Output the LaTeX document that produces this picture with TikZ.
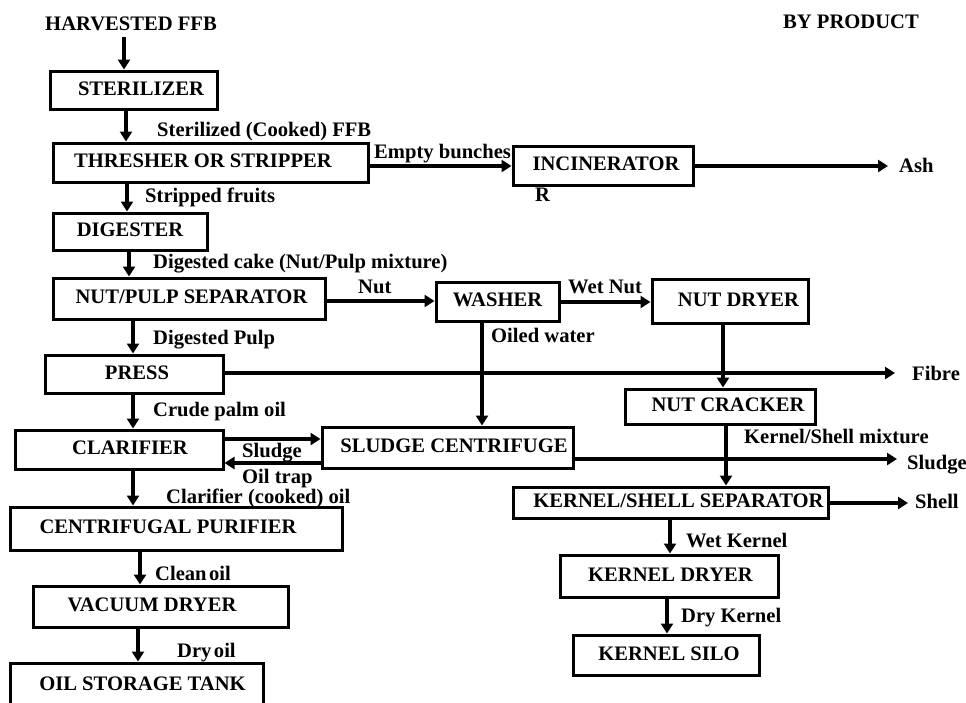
\documentclass[tikz,border=0pt]{standalone}
\usepackage{fontspec}
\setmainfont{Liberation Serif}
\usetikzlibrary{arrows.meta}
\begin{document}
\begin{tikzpicture}[x=1pt,y=-1pt,
  font=\fontsize{20.6}{24}\selectfont\bfseries,
  box/.style={draw, line width=3pt, inner sep=0pt, text height=14pt, text depth=4pt, anchor=center},
  lbl/.style={inner sep=0pt, text height=14pt, text depth=4pt, anchor=west},
  arr/.style={line width=3.5pt, -{Triangle[length=10pt,width=12pt]}},
  ln/.style={line width=3.5pt}]
\useasboundingbox (0,0) rectangle (966,702);
% boxes
\node[box, minimum width=167pt, minimum height=38pt] (steril) at (133.5,90) {\hspace*{15pt}STERILIZER};
\node[box, minimum width=315pt, minimum height=39pt] (thresh) at (210.5,162.5) {THRESHER OR STRIPPER\hspace*{15pt}};
\node[box, minimum width=180pt, minimum height=39pt] (incin) at (603,165.5) {\hspace*{6pt}INCINERATOR};
\node[box, minimum width=154pt, minimum height=37pt] (digest) at (130,231.5) {DIGESTER};
\node[box, minimum width=272pt, minimum height=41pt] (nutpulp) at (189,298.5) {\hspace*{5pt}NUT/PULP SEPARATOR};
\node[box, minimum width=123pt, minimum height=39pt] (washer) at (497.5,301.5) {WASHER};
\node[box, minimum width=156pt, minimum height=44pt] (nutdryer) at (730,301) {\hspace*{17pt}NUT DRYER};
\node[box, minimum width=178pt, minimum height=38pt] (press) at (134,374) {\hspace*{6pt}PRESS};
\node[box, minimum width=190pt, minimum height=35pt] (cracker) at (720,406.5) {\hspace*{16pt}NUT CRACKER};
\node[box, minimum width=208pt, minimum height=39pt] (clar) at (119,449.5) {\hspace*{22pt}CLARIFIER};
\node[box, minimum width=251pt, minimum height=41pt] (centri) at (447.5,447.5) {\hspace*{13pt}SLUDGE CENTRIFUGE};
\node[box, minimum width=315pt, minimum height=31pt] (kssep) at (670.5,502.5) {\hspace*{16pt}KERNEL/SHELL SEPARATOR};
\node[box, minimum width=332pt, minimum height=43pt] (purif) at (176,528.5) {CENTRIFUGAL PURIFIER\hspace*{16pt}};
\node[box, minimum width=218pt, minimum height=42pt] (kdryer) at (669,576) {\hspace*{3pt}KERNEL DRYER};
\node[box, minimum width=255pt, minimum height=41pt] (vac) at (160.5,606.5) {VACUUM DRYER\hspace*{17pt}};
\node[box, minimum width=186pt, minimum height=40pt] (silo) at (666,655) {\hspace*{6pt}KERNEL SILO};
\node[box, minimum width=253pt, minimum height=44pt] (tank) at (136.5,685) {\hspace*{12pt}OIL STORAGE TANK};
% free texts
\node[lbl, anchor=center] (harv) at (131,25) {HARVESTED FFB};
\node[lbl] (byprod) at (783,23) {BY PRODUCT};
\node[lbl] (tSter) at (157,131) {Sterilized (Cooked) FFB};
\node[lbl] (tEmpty) at (374,153) {Empty bunches};
\node[lbl] (tR) at (535,196) {R};
\node[lbl] (tAsh) at (899,167) {Ash};
\node[lbl] (tStrip) at (145,197) {Stripped fruits};
\node[lbl] (tCake) at (153,263) {Digested cake (Nut/Pulp mixture)};
\node[lbl] (tNut) at (358,288) {Nut};
\node[lbl] (tWetNut) at (568,288) {Wet Nut};
\node[lbl] (tPulp) at (153,339) {Digested Pulp};
\node[lbl] (tOiled) at (491,337) {Oiled water};
\node[lbl] (tFibre) at (912,375) {Fibre};
\node[lbl] (tCrude) at (153,411) {Crude palm oil};
\node[lbl] (tKSmix) at (744,438) {Kernel/Shell mixture};
\node[lbl] (tSludgeA) at (242,452) {Sludge};
\node[lbl] (tOilTrap) at (242,478) {Oil trap};
\node[lbl] (tSludgeB) at (907,464) {Sludge};
\node[lbl] (tClarOil) at (166,498) {Clarifier (cooked) oil};
\node[lbl] (tShell) at (915,503) {Shell};
\node[lbl] (tClean) at (155,575) {Clean\hspace{0.12em}oil};
\node[lbl] (tWetK) at (686,542) {Wet Kernel};
\node[lbl] (tDryK) at (681,617) {Dry Kernel};
\node[lbl] (tDryOil) at (177,652) {Dry\hspace{0.12em}oil};
% free ends
\coordinate (ashEnd) at (888,166);
\coordinate (fibreEnd) at (895,373);
\coordinate (sludgeEnd) at (897,459);
\coordinate (shellEnd) at (908,503);
% vertical connectors
\draw[arr, shorten <=3pt] (harv.south -| 124,0) -- (steril.north -| 124,0);
\draw[arr] (steril.south -| 126,0) -- (thresh.north -| 126,0);
\draw[arr] (thresh.south -| 127,0) -- (digest.north -| 127,0);
\draw[arr] (digest.south -| 129,0) -- (nutpulp.north -| 129,0);
\draw[arr] (nutpulp.south -| 133,0) -- (press.north -| 133,0);
\draw[arr] (press.south -| 133,0) -- (clar.north -| 133,0);
\draw[arr] (clar.south -| 133,0) -- (purif.north -| 133,0);
\draw[arr] (purif.south -| 140,0) -- (vac.north -| 140,0);
\draw[arr] (vac.south -| 138,0) -- (tank.north -| 138,0);
\draw[arr] (washer.south -| 482,0) -- (centri.north -| 482,0);
\draw[arr] (nutdryer.south -| 723,0) -- (cracker.north -| 723,0);
\draw[arr] (cracker.south -| 726,0) -- (kssep.north -| 726,0);
\draw[arr] (kssep.south -| 670,0) -- (kdryer.north -| 670,0);
\draw[arr] (kdryer.south -| 667,0) -- (silo.north -| 667,0);
% horizontal connectors
\draw[arr] (thresh.east |- ashEnd) -- (incin.west |- ashEnd);
\draw[arr] (incin.east |- ashEnd) -- (ashEnd);
\draw[arr] (nutpulp.east |- 0,301) -- (washer.west |- 0,301);
\draw[arr] (washer.east |- 0,302) -- (nutdryer.west |- 0,302);
\draw[arr] (press.east |- fibreEnd) -- (fibreEnd);
\draw[arr] (clar.east |- 0,439) -- (centri.west |- 0,439);
\draw[arr] (centri.west |- 0,463) -- (clar.east |- 0,463);
\draw[arr] (centri.east |- sludgeEnd) -- (sludgeEnd);
\draw[arr] (kssep.east |- shellEnd) -- (shellEnd);
\end{tikzpicture}
\end{document}
